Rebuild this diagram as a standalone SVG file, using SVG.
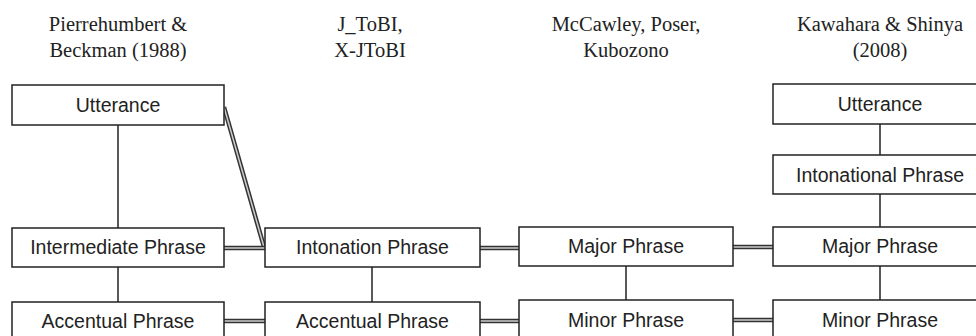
<svg xmlns="http://www.w3.org/2000/svg" width="976" height="336" viewBox="0 0 976 336">
<style>
.hd{font-family:"Liberation Serif","Times New Roman",serif;font-size:20.5px;fill:#222;text-anchor:middle}
.box{fill:#fff;stroke:#222;stroke-width:1.5}
.lb{font-family:"Liberation Sans",Arial,sans-serif;font-size:19.5px;fill:#222;text-anchor:middle}
.single{stroke:#222;stroke-width:1.5;fill:none}
.dblo{stroke:#333;stroke-width:4.5;fill:none}
.dbli{stroke:#ccc;stroke-width:1.5;fill:none}
</style>
<rect width="976" height="336" fill="#fff"/>
<g id="headers">
<text class="hd" x="118" y="31">Pierrehumbert &amp;</text>
<text class="hd" x="118" y="57">Beckman (1988)</text>
<text class="hd" x="370" y="31">J_ToBI,</text>
<text class="hd" x="370" y="57">X-JToBI</text>
<text class="hd" x="626" y="31">McCawley, Poser,</text>
<text class="hd" x="626" y="57">Kubozono</text>
<text class="hd" x="880" y="31">Kawahara &amp; Shinya</text>
<text class="hd" x="880" y="57">(2008)</text>
</g>
<g id="connectors">
<line class="single" x1="118" y1="125" x2="118" y2="228"/>
<line class="single" x1="118" y1="267" x2="118" y2="302"/>
<line class="single" x1="372" y1="267" x2="372" y2="302"/>
<line class="single" x1="626" y1="266" x2="626" y2="300"/>
<line class="single" x1="880" y1="124" x2="880" y2="155"/>
<line class="single" x1="880" y1="194" x2="880" y2="227"/>
<line class="single" x1="880" y1="266" x2="880" y2="300"/>
<g>
<line class="dblo" x1="224" y1="107" x2="264" y2="247"/>
<line class="dbli" x1="224" y1="107" x2="264" y2="247"/>
<line class="dblo" x1="224" y1="248" x2="265" y2="248"/>
<line class="dbli" x1="224" y1="248" x2="265" y2="248"/>
<line class="dblo" x1="224" y1="321" x2="265" y2="321"/>
<line class="dbli" x1="224" y1="321" x2="265" y2="321"/>
<line class="dblo" x1="480" y1="248" x2="519" y2="248"/>
<line class="dbli" x1="480" y1="248" x2="519" y2="248"/>
<line class="dblo" x1="480" y1="321" x2="519" y2="321"/>
<line class="dbli" x1="480" y1="321" x2="519" y2="321"/>
<line class="dblo" x1="733" y1="247" x2="773" y2="247"/>
<line class="dbli" x1="733" y1="247" x2="773" y2="247"/>
<line class="dblo" x1="733" y1="320" x2="773" y2="320"/>
<line class="dbli" x1="733" y1="320" x2="773" y2="320"/>
</g>
</g>
<g id="pb-utterance"><rect class="box" x="12" y="85" width="212" height="40"/><text class="lb" x="118" y="112">Utterance</text></g>
<g id="pb-intermediate"><rect class="box" x="12" y="228" width="212" height="39"/><text class="lb" x="118" y="254">Intermediate Phrase</text></g>
<g id="pb-accentual"><rect class="box" x="12" y="302" width="212" height="40"/><text class="lb" x="118" y="328">Accentual Phrase</text></g>
<g id="jt-intonation"><rect class="box" x="265" y="228" width="215" height="39"/><text class="lb" x="372.5" y="254">Intonation Phrase</text></g>
<g id="jt-accentual"><rect class="box" x="265" y="302" width="215" height="40"/><text class="lb" x="372.5" y="328">Accentual Phrase</text></g>
<g id="mc-major"><rect class="box" x="519" y="227" width="214" height="39"/><text class="lb" x="626" y="253">Major Phrase</text></g>
<g id="mc-minor"><rect class="box" x="519" y="300" width="214" height="42"/><text class="lb" x="626" y="327">Minor Phrase</text></g>
<g id="ks-utterance"><rect class="box" x="773" y="84" width="214" height="40"/><text class="lb" x="880" y="111">Utterance</text></g>
<g id="ks-intonational"><rect class="box" x="773" y="155" width="214" height="39"/><text class="lb" x="880" y="182">Intonational Phrase</text></g>
<g id="ks-major"><rect class="box" x="773" y="227" width="214" height="39"/><text class="lb" x="880" y="253">Major Phrase</text></g>
<g id="ks-minor"><rect class="box" x="773" y="300" width="214" height="42"/><text class="lb" x="880" y="327">Minor Phrase</text></g>
</svg>
